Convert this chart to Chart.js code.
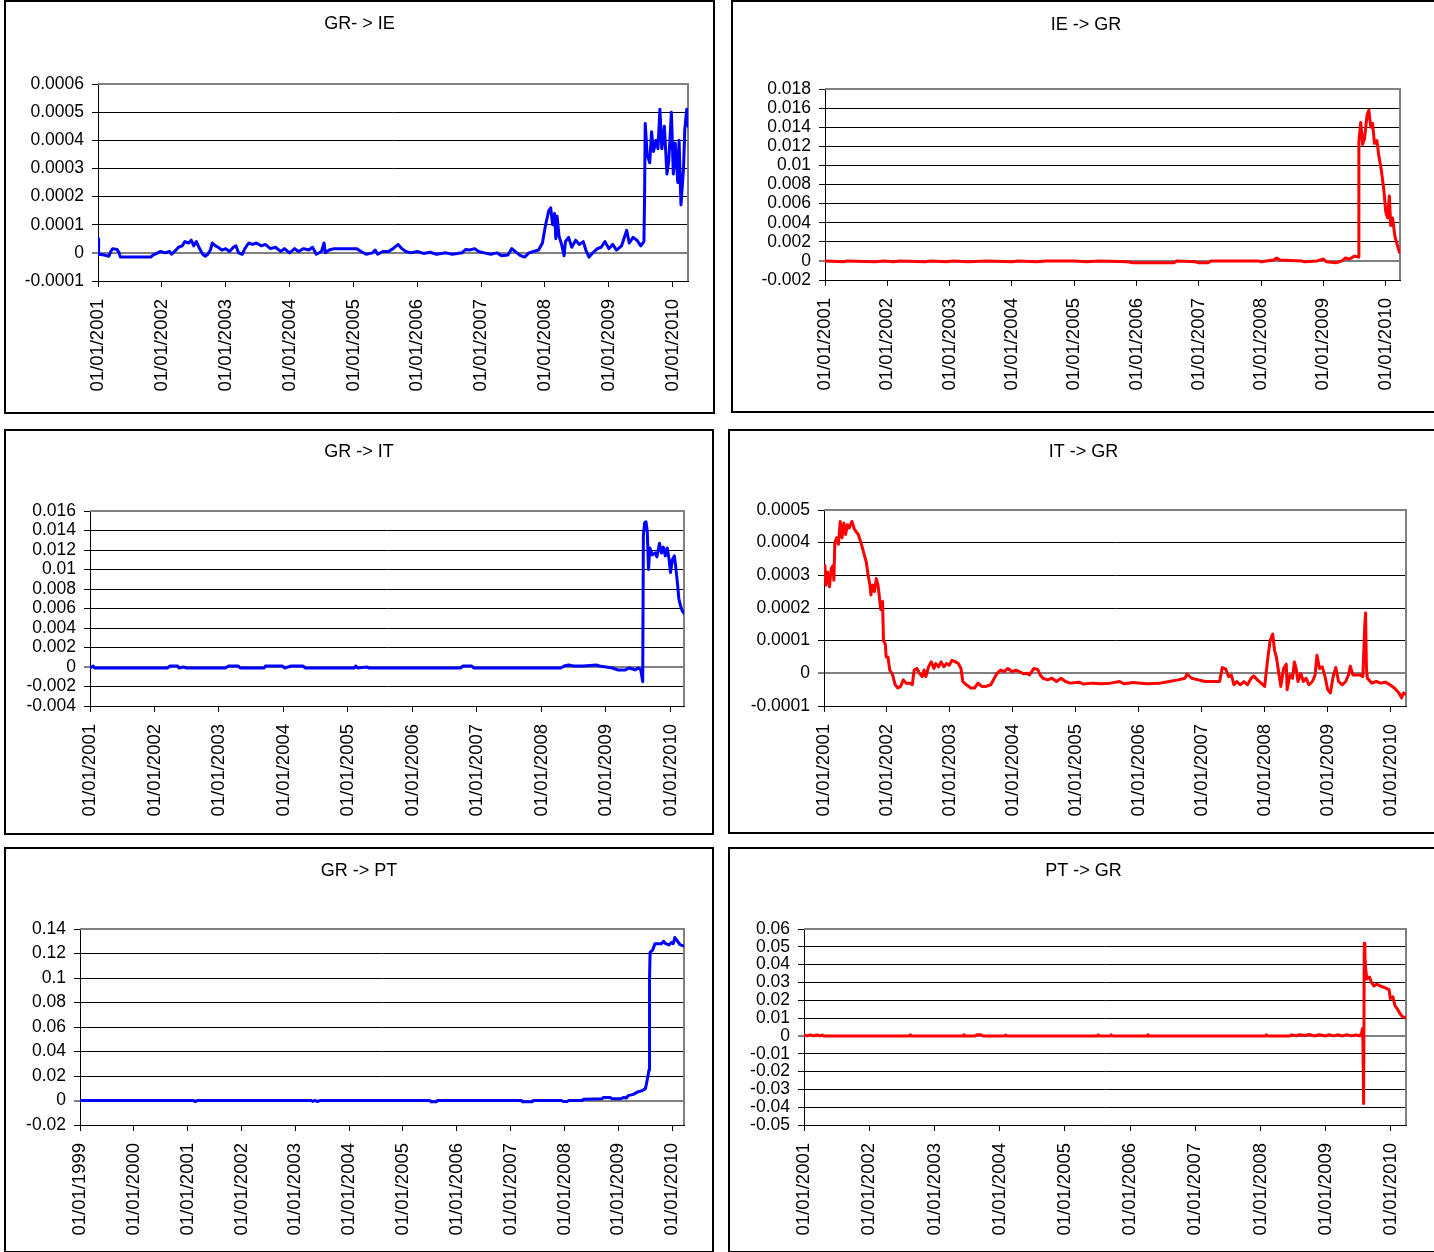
<!DOCTYPE html>
<html>
<head>
<meta charset="utf-8">
<title>Spillover panels</title>
<script src="https://cdn.jsdelivr.net/npm/chart.js@4.4.1/dist/chart.umd.min.js"></script>
<style>
  html, body { margin: 0; padding: 0; background: #fff; }
  body { width: 1434px; height: 1252px; position: relative; overflow: hidden; }
  .panel { position: absolute; border: 2px solid #000; box-sizing: border-box; background: #fff; }
  .panel canvas { position: absolute; left: 0; top: 0; }
</style>
</head>
<body>
<div class="panel" style="left:4px;top:0px;width:711px;height:414px"><canvas id="grIe"></canvas></div>
<div class="panel" style="left:731px;top:0px;width:710px;height:413px"><canvas id="ieGr"></canvas></div>
<div class="panel" style="left:4px;top:429px;width:710px;height:406px"><canvas id="grIt"></canvas></div>
<div class="panel" style="left:728px;top:429px;width:711px;height:405px"><canvas id="itGr"></canvas></div>
<div class="panel" style="left:4px;top:847px;width:710px;height:406px"><canvas id="grPt"></canvas></div>
<div class="panel" style="left:728px;top:847px;width:711px;height:406px"><canvas id="ptGr"></canvas></div>
<script>
// tick categories (01/01 of each year)
const years2001 = [2001, 2002, 2003, 2004, 2005, 2006, 2007, 2008, 2009, 2010];
const years1999 = [1999, 2000, 2001, 2002, 2003, 2004, 2005, 2006, 2007, 2008, 2009, 2010];

// y tick labels
const grIeYTicks = ['-0.0001', '0', '0.0001', '0.0002', '0.0003', '0.0004', '0.0005', '0.0006'];
const ieGrYTicks = ['-0.002', '0', '0.002', '0.004', '0.006', '0.008', '0.01', '0.012', '0.014', '0.016', '0.018'];
const grItYTicks = ['-0.004', '-0.002', '0', '0.002', '0.004', '0.006', '0.008', '0.01', '0.012', '0.014', '0.016'];
const itGrYTicks = ['-0.0001', '0', '0.0001', '0.0002', '0.0003', '0.0004', '0.0005'];
const grPtYTicks = ['-0.02', '0', '0.02', '0.04', '0.06', '0.08', '0.1', '0.12', '0.14'];
const ptGrYTicks = ['-0.05', '-0.04', '-0.03', '-0.02', '-0.01', '0', '0.01', '0.02', '0.03', '0.04', '0.05', '0.06'];

// GR- > IE (dates in decimal years)
const grIeDates = [
  2001.00, 2001.01, 2001.10, 2001.17, 2001.20, 2001.23, 2001.30, 2001.33, 2001.35, 2001.60,
  2001.83, 2001.86, 2001.92, 2001.98, 2002.05, 2002.12, 2002.15, 2002.20, 2002.26, 2002.32,
  2002.36, 2002.42, 2002.46, 2002.50, 2002.54, 2002.58, 2002.64, 2002.68, 2002.72, 2002.76,
  2002.79, 2002.84, 2002.88, 2002.94, 2003.00, 2003.06, 2003.12, 2003.16, 2003.20, 2003.26,
  2003.30, 2003.36, 2003.42, 2003.48, 2003.56, 2003.62, 2003.70, 2003.78, 2003.86, 2003.92,
  2004.00, 2004.08, 2004.14, 2004.22, 2004.30, 2004.36, 2004.42, 2004.50, 2004.54, 2004.56,
  2004.62, 2004.70, 2004.90, 2005.05, 2005.12, 2005.20, 2005.30, 2005.34, 2005.38, 2005.46,
  2005.55, 2005.62, 2005.70, 2005.76, 2005.82, 2005.90, 2006.00, 2006.10, 2006.20, 2006.30,
  2006.45, 2006.55, 2006.70, 2006.76, 2006.82, 2006.90, 2006.96, 2007.05, 2007.15, 2007.25,
  2007.32, 2007.42, 2007.48, 2007.56, 2007.62, 2007.68, 2007.75, 2007.82, 2007.90, 2007.96,
  2008.01, 2008.06, 2008.09, 2008.12, 2008.15, 2008.17, 2008.19, 2008.22, 2008.26, 2008.30,
  2008.32, 2008.37, 2008.42, 2008.48, 2008.54, 2008.60, 2008.64, 2008.69, 2008.75, 2008.82,
  2008.88, 2008.94, 2009.00, 2009.06, 2009.12, 2009.20, 2009.28, 2009.32, 2009.38, 2009.44,
  2009.50, 2009.55, 2009.56, 2009.57, 2009.60, 2009.64, 2009.67, 2009.70, 2009.74, 2009.77,
  2009.80, 2009.83, 2009.87, 2009.91, 2009.94, 2009.98, 2010.01, 2010.04, 2010.08, 2010.10,
  2010.13, 2010.17, 2010.19, 2010.22, 2010.24
];
const grIeValues = [
  0.00005, -0.000005, -0.000008, -0.000012, 0.000005, 0.000015, 0.000012, 0, -0.000015, -0.000015,
  -0.000015, -0.000008, -0.000002, 0.000005, 0, 0.000005, -0.000005, 0.000005, 0.00002, 0.000025,
  0.00004, 0.000035, 0.000045, 0.000025, 0.00004, 0.00002, -0.000005, -0.000012, -0.000005, 0.00001,
  0.000035, 0.000025, 0.00002, 0.00001, 0.000015, 0.000005, 0.00002, 0.000025, 0, -0.000005,
  0.000015, 0.000035, 0.00003, 0.000035, 0.000025, 0.00003, 0.000015, 0.00002, 0.000005, 0.000015,
  0, 0.000015, 0.000005, 0.000015, 0.00001, 0.00002, -0.000005, 0.000005, 0.000035, 0,
  0.00001, 0.000015, 0.000015, 0.000015, 0.000005, -0.000005, 0, 0.00001, -0.000005, 0.000005,
  0.000005, 0.000015, 0.00003, 0.000015, 0.000005, 0, 0.000005, -0.000002, 0.000002, -0.000005,
  0, -0.000005, 0, 0.000012, 0.00001, 0.000015, 0.000005, 0, -0.000005, 0,
  -0.00001, -0.000008, 0.000015, 0, -0.00001, -0.000015, 0, 0.000005, 0.00001, 0.000035,
  0.0001, 0.00015, 0.00016, 0.0001, 0.00014, 0.00005, 0.00013, 0.00006, 0.00003, -0.00001,
  0.00004, 0.000055, 0.00002, 0.000045, 0.00003, 0.00004, 0.00001, -0.000015, 0, 0.000015,
  0.00002, 0.00004, 0.000015, 0.00003, 0.00001, 0.000025, 0.00008, 0.000035, 0.000055, 0.000045,
  0.000025, 0.00004, 0.0002, 0.00046, 0.00035, 0.00032, 0.00043, 0.00036, 0.0004, 0.00037,
  0.00051, 0.00037, 0.00045, 0.00028, 0.00033, 0.0005, 0.00028, 0.00039, 0.00025, 0.0004,
  0.00017, 0.0003, 0.00044, 0.00051, 0.00045
];

// IE -> GR
const ieGrDates = [
  2001.00, 2001.30, 2001.35, 2001.80, 2001.95, 2002.10, 2002.20, 2002.60, 2002.70, 2002.95,
  2003.05, 2003.30, 2003.60, 2004.00, 2004.10, 2004.40, 2004.55, 2005.00, 2005.20, 2005.40,
  2005.85, 2005.95, 2006.60, 2006.65, 2006.95, 2007.00, 2007.15, 2007.20, 2007.95, 2008.00,
  2008.20, 2008.25, 2008.30, 2008.65, 2008.70, 2008.90, 2009.00, 2009.05, 2009.20, 2009.30,
  2009.35, 2009.42, 2009.50, 2009.56, 2009.57, 2009.60, 2009.63, 2009.66, 2009.70, 2009.73,
  2009.76, 2009.79, 2009.82, 2009.86, 2009.89, 2009.93, 2009.97, 2010.00, 2010.03, 2010.06,
  2010.08, 2010.11, 2010.15, 2010.19, 2010.22
];
const ieGrValues = [
  0, -0.0001, 0, -0.0001, 0, -0.0001, 0, -0.0001, 0, -0.0001,
  0, -0.0001, 0, -0.0001, 0, -0.0001, 0, 0, -0.0001, 0,
  -0.0001, -0.0002, -0.0002, 0, -0.0001, -0.0002, -0.0002, 0, 0, -0.0001,
  0.0001, 0.0003, 0.0001, 0, -0.0001, 0, 0.0002, -0.0001, -0.0002, 0,
  0.0003, 0.0002, 0.0005, 0.0004, 0.0125, 0.0145, 0.0122, 0.0128, 0.0152, 0.0158,
  0.014, 0.0144, 0.0123, 0.0126, 0.011, 0.0095, 0.0075, 0.0052, 0.0045, 0.0068,
  0.0037, 0.0045, 0.0025, 0.0016, 0.0009
];

// GR -> IT
const grItDates = [
  2001.00, 2001.05, 2001.07, 2002.20, 2002.24, 2002.36, 2002.38, 2002.45, 2002.50, 2003.10,
  2003.15, 2003.30, 2003.33, 2003.70, 2003.72, 2003.98, 2004.02, 2004.12, 2004.30, 2004.34,
  2005.10, 2005.12, 2005.15, 2005.30, 2005.32, 2006.75, 2006.78, 2006.92, 2006.95, 2008.30,
  2008.35, 2008.42, 2008.50, 2008.65, 2008.85, 2008.90, 2009.00, 2009.10, 2009.18, 2009.30,
  2009.36, 2009.45, 2009.50, 2009.54, 2009.57, 2009.58, 2009.60, 2009.62, 2009.64, 2009.66,
  2009.68, 2009.72, 2009.76, 2009.79, 2009.83, 2009.86, 2009.89, 2009.92, 2009.95, 2009.98,
  2010.00, 2010.03, 2010.06, 2010.08, 2010.11, 2010.13, 2010.16, 2010.18, 2010.21
];
const grItValues = [
  -0.0001, 0.0001, -0.0001, -0.0001, 0.0001, 0.0001, -0.0001, 0, -0.0001, -0.0001,
  0.0001, 0.0001, -0.0001, -0.0001, 0.0001, 0.0001, -0.0001, 0.0001, 0.0001, -0.0001,
  -0.0001, 0.0001, -0.0001, 0, -0.0001, -0.0001, 0.0001, 0.0001, -0.0001, -0.0001,
  0.0001, 0.0002, 0.0001, 0.0001, 0.0002, 0.0001, 0, -0.0001, -0.0003, -0.0003,
  -0.0001, -0.0003, -0.0001, -0.0003, -0.0015, 0.0135, 0.0148, 0.0149, 0.014, 0.01,
  0.0122, 0.0115, 0.0117, 0.0113, 0.0127, 0.0117, 0.0123, 0.0114, 0.0122, 0.011,
  0.0097, 0.011, 0.0114, 0.0104, 0.0085, 0.007, 0.0062, 0.0058, 0.0055
];

// IT -> GR
const itGrDates = [
  2001.000, 2001.014, 2001.029, 2001.057, 2001.086, 2001.114, 2001.143, 2001.157, 2001.172, 2001.200,
  2001.229, 2001.258, 2001.286, 2001.315, 2001.343, 2001.372, 2001.401, 2001.443, 2001.486, 2001.544,
  2001.587, 2001.629, 2001.672, 2001.701, 2001.730, 2001.744, 2001.773, 2001.801, 2001.830, 2001.858,
  2001.887, 2001.901, 2001.930, 2001.944, 2001.973, 2001.987, 2002.016, 2002.044, 2002.087, 2002.130,
  2002.173, 2002.216, 2002.259, 2002.302, 2002.359, 2002.402, 2002.431, 2002.474, 2002.516, 2002.559,
  2002.588, 2002.617, 2002.660, 2002.702, 2002.745, 2002.774, 2002.817, 2002.860, 2002.903, 2002.946,
  2002.989, 2003.032, 2003.089, 2003.132, 2003.175, 2003.203, 2003.260, 2003.332, 2003.389, 2003.446,
  2003.504, 2003.575, 2003.647, 2003.704, 2003.747, 2003.804, 2003.861, 2003.918, 2003.990, 2004.047,
  2004.104, 2004.162, 2004.219, 2004.262, 2004.333, 2004.391, 2004.433, 2004.476, 2004.548, 2004.620,
  2004.691, 2004.763, 2004.834, 2004.906, 2005.049, 2005.120, 2005.263, 2005.406, 2005.549, 2005.692,
  2005.764, 2005.907, 2006.122, 2006.336, 2006.479, 2006.622, 2006.730, 2006.765, 2006.837, 2006.944,
  2007.052, 2007.195, 2007.281, 2007.323, 2007.381, 2007.423, 2007.466, 2007.509, 2007.552, 2007.609,
  2007.667, 2007.724, 2007.781, 2007.824, 2007.881, 2007.939, 2007.996, 2008.039, 2008.082, 2008.124,
  2008.153, 2008.182, 2008.225, 2008.253, 2008.296, 2008.339, 2008.353, 2008.396, 2008.439, 2008.468,
  2008.496, 2008.525, 2008.568, 2008.611, 2008.654, 2008.697, 2008.754, 2008.797, 2008.826, 2008.868,
  2008.911, 2008.954, 2008.997, 2009.040, 2009.083, 2009.126, 2009.169, 2009.226, 2009.283, 2009.326,
  2009.355, 2009.398, 2009.455, 2009.512, 2009.555, 2009.584, 2009.598, 2009.612, 2009.627, 2009.698,
  2009.770, 2009.841, 2009.913, 2009.984, 2010.056, 2010.127, 2010.170, 2010.199, 2010.242
];
const itGrValues = [
  0.0003, 0.00033, 0.00027, 0.00031, 0.000265, 0.00032, 0.00033, 0.000285, 0.0004, 0.000415,
  0.000395, 0.000465, 0.000415, 0.00046, 0.000425, 0.000455, 0.000445, 0.000465, 0.00044, 0.000425,
  0.0004, 0.00037, 0.00034, 0.0003, 0.00027, 0.00024, 0.00027, 0.00025, 0.00029, 0.00027,
  0.00022, 0.000195, 0.00022, 0.0001, 0.00009, 0.00005, 0.00005, 0.00001, -0.000003, -0.000035,
  -0.000045, -0.00004, -0.00002, -0.00003, -0.00003, -0.000035, 0.00001, 0.000015, 0, -0.00001,
  0.00001, -0.00001, 0.00002, 0.000035, 0.000015, 0.00003, 0.00002, 0.000035, 0.00002, 0.00003,
  0.000025, 0.00004, 0.000035, 0.00003, 0.000015, -0.000025, -0.000035, -0.000045, -0.000045, -0.00003,
  -0.00004, -0.00004, -0.000035, -0.000015, 0, 0.00001, 0.000005, 0.000015, 0.000005, 0.00001,
  0.000005, -0.000001, 0, -0.000005, 0.000015, 0.000012, -0.000005, -0.000015, -0.00002, -0.000015,
  -0.000025, -0.000015, -0.000025, -0.00003, -0.000027, -0.000033, -0.00003, -0.000032, -0.00003, -0.000025,
  -0.000032, -0.000028, -0.000032, -0.00003, -0.000025, -0.00002, -0.000015, -0.000002, -0.000015, -0.00002,
  -0.000025, -0.000025, -0.000025, 0.000018, 0.000012, -0.00001, -0.000005, -0.000035, -0.000025, -0.000035,
  -0.000025, -0.000035, -0.000015, -0.000008, -0.00002, -0.00003, -0.00004, 0.000035, 0.0001, 0.00012,
  0.00007, 0.00005, -0.000005, -0.00004, 0.000015, 0.000028, -0.00005, -0.000005, -0.000015, 0.000035,
  0.000015, -0.000025, 0, -0.000025, -0.000015, -0.000035, -0.000025, -0.000005, 0.000055, 0.000015,
  0.00002, -0.00001, -0.00005, -0.00006, -0.00001, 0.000018, -0.000025, -0.000035, -0.000025, -0.000005,
  0.000022, -0.000005, -0.000005, -0.000005, -0.00001, 0.00014, 0.000185, 0.000015, -0.000015, -0.00003,
  -0.000025, -0.00003, -0.000027, -0.000035, -0.000045, -0.00006, -0.000075, -0.00006, -0.000065
];

// GR -> PT
const grPtDates = [
  1999.00, 2001.10, 2001.15, 2001.18, 2003.30, 2003.32, 2003.36, 2003.42, 2003.46, 2005.50,
  2005.52, 2005.62, 2005.64, 2007.20, 2007.22, 2007.40, 2007.42, 2007.95, 2007.97, 2008.05,
  2008.08, 2008.33, 2008.35, 2008.70, 2008.72, 2008.85, 2008.88, 2009.05, 2009.10, 2009.15,
  2009.18, 2009.28, 2009.36, 2009.44, 2009.50, 2009.52, 2009.55, 2009.57, 2009.58, 2009.59,
  2009.64, 2009.68, 2009.80, 2009.84, 2009.88, 2009.94, 2009.99, 2010.02, 2010.05, 2010.10,
  2010.15, 2010.22
];
const grPtValues = [
  0, 0, -0.0008, 0, 0, -0.0008, 0, -0.0008, 0, 0,
  -0.001, -0.001, 0, 0, -0.001, -0.001, 0, 0, -0.0008, -0.0008,
  0, 0, 0.001, 0.0015, 0.0025, 0.0025, 0.0015, 0.0015, 0.0025, 0.002,
  0.004, 0.005, 0.007, 0.008, 0.0095, 0.013, 0.02, 0.025, 0.1, 0.121,
  0.123, 0.128, 0.128, 0.13, 0.128, 0.127, 0.129, 0.128, 0.133, 0.13,
  0.127, 0.126
];

// PT -> GR
const ptGrDates = [
  2001.00, 2001.05, 2001.10, 2001.15, 2001.20, 2001.25, 2001.28, 2001.30, 2002.62, 2002.63,
  2002.65, 2003.44, 2003.45, 2003.47, 2003.63, 2003.65, 2003.72, 2003.74, 2004.08, 2004.09,
  2004.11, 2005.50, 2005.51, 2005.53, 2005.70, 2005.71, 2005.73, 2006.26, 2006.27, 2006.29,
  2008.08, 2008.09, 2008.11, 2008.45, 2008.48, 2008.55, 2008.60, 2008.68, 2008.75, 2008.82,
  2008.90, 2009.00, 2009.05, 2009.12, 2009.18, 2009.26, 2009.32, 2009.40, 2009.46, 2009.52,
  2009.55, 2009.56, 2009.57, 2009.58, 2009.59, 2009.60, 2009.61, 2009.63, 2009.67, 2009.70,
  2009.74, 2009.78, 2009.84, 2009.91, 2009.97, 2009.99, 2010.03, 2010.06, 2010.10, 2010.13,
  2010.17, 2010.23
];
const ptGrValues = [
  0.0006, 0, 0.0006, 0, 0.0006, 0, 0.0005, 0, 0, 0.0006,
  0, 0, 0.0007, 0, 0, 0.0007, 0.0006, 0, 0, 0.0005,
  0, 0, 0.0006, 0, 0, 0.0006, 0, 0, 0.0007, 0,
  0, 0.0006, 0, 0, 0.0006, 0, 0.0007, 0.0002, 0.0008, 0,
  0.0006, 0, 0.0007, 0, 0.0006, 0, 0.0007, 0, 0.0006, 0,
  0.0015, 0.004, -0.003, -0.038, 0.052, 0.045, 0.038, 0.032, 0.033, 0.03,
  0.028, 0.029, 0.028, 0.027, 0.026, 0.021, 0.022, 0.017, 0.015, 0.013,
  0.011, 0.01
];

Chart.defaults.font.family = '"Liberation Sans", Arial, sans-serif';
Chart.defaults.color = '#000';

// grey top/right edge of the plot area, like the spreadsheet frame
const plotFrame = {
  id: 'plotFrame',
  beforeDatasetsDraw(chart) {
    const { ctx, chartArea: a } = chart;
    ctx.save();
    ctx.strokeStyle = '#808080';
    ctx.lineWidth = 2;
    ctx.beginPath();
    ctx.moveTo(a.left, a.top);
    ctx.lineTo(a.right, a.top);
    ctx.lineTo(a.right, a.bottom);
    ctx.stroke();
    ctx.restore();
  }
};

function drawPanel(id, cfg) {
  const canvas = document.getElementById(id);
  const box = canvas.parentElement;
  const W = box.clientWidth, H = box.clientHeight;
  canvas.width = W;
  canvas.height = H;
  const left0 = box.offsetLeft + box.clientLeft;
  const top0 = box.offsetTop + box.clientTop;

  const p = cfg.plot;
  const yWidth = p.left - left0;
  const rightGap = left0 + W - p.right;
  const xHeight = top0 + H - p.bottom;
  const titleLine = 18 * 1.2;
  const titleTop = cfg.titleY - top0 - titleLine / 2;
  const titleBottom = p.top - top0 - titleLine - titleTop;

  const yVals = cfg.yTicks.map(Number);

  new Chart(canvas, {
    type: 'line',
    data: {
      datasets: [{
        data: cfg.dates.map((d, i) => ({ x: d, y: cfg.values[i] })),
        borderColor: cfg.color,
        borderWidth: 3,
        pointRadius: 0,
        tension: 0,
        borderJoinStyle: 'round',
        borderCapStyle: 'round',
        fill: false
      }]
    },
    options: {
      responsive: false,
      animation: false,
      devicePixelRatio: 1,
      layout: { autoPadding: false, padding: 0 },
      plugins: {
        legend: { display: false },
        tooltip: { enabled: false },
        title: {
          display: true,
          text: cfg.title,
          color: '#000',
          font: { size: 18, weight: 'normal', lineHeight: 1.2 },
          padding: { top: titleTop, bottom: titleBottom }
        }
      },
      scales: {
        x: {
          type: 'linear',
          min: cfg.xMin,
          max: cfg.xMax,
          afterBuildTicks: s => { s.ticks = cfg.years.map(v => ({ value: v })); },
          afterFit: s => { s.height = xHeight; s.paddingLeft = 0; s.paddingRight = 0; },
          grid: { drawOnChartArea: false, drawTicks: true, tickLength: 6, color: '#000' },
          border: { display: true, color: '#000', width: 1 },
          ticks: {
            autoSkip: false,
            minRotation: 90,
            maxRotation: 90,
            padding: 12,
            color: '#000',
            font: { size: 18.5 },
            callback: v => '01/01/' + v
          }
        },
        y: {
          min: yVals[0],
          max: yVals[yVals.length - 1],
          afterBuildTicks: s => { s.ticks = yVals.map(v => ({ value: v })); },
          afterFit: s => { s.width = yWidth; s.paddingTop = 0; s.paddingBottom = 0; },
          grid: {
            tickLength: 6,
            color: c => (c.tick && c.tick.value === 0 ? '#808080' : '#000'),
            lineWidth: c => (c.tick && c.tick.value === 0 ? 2 : 1)
          },
          border: { display: true, color: '#000', width: 1 },
          ticks: {
            autoSkip: false,
            padding: 8,
            color: '#000',
            font: { size: 17.5 },
            callback: (v, i) => cfg.yTicks[i]
          }
        },
        // empty right-hand axis: reserves the gap to the panel edge
        yGap: {
          position: 'right',
          min: yVals[0],
          max: yVals[yVals.length - 1],
          grid: { display: false },
          border: { display: false },
          ticks: { display: false },
          afterFit: s => { s.width = rightGap; s.paddingTop = 0; s.paddingBottom = 0; }
        }
      }
    },
    plugins: [plotFrame]
  });
}

drawPanel('grIe', {
  title: 'GR- > IE', color: '#0000FF', dates: grIeDates, values: grIeValues,
  yTicks: grIeYTicks, years: years2001, xMin: 2001, xMax: 2010.24,
  plot: { left: 98, top: 84, right: 688, bottom: 281 }, titleY: 24
});
drawPanel('ieGr', {
  title: 'IE -> GR', color: '#FF0000', dates: ieGrDates, values: ieGrValues,
  yTicks: ieGrYTicks, years: years2001, xMin: 2001, xMax: 2010.23,
  plot: { left: 825, top: 89, right: 1400, bottom: 280 }, titleY: 25
});
drawPanel('grIt', {
  title: 'GR -> IT', color: '#0000FF', dates: grItDates, values: grItValues,
  yTicks: grItYTicks, years: years2001, xMin: 2001, xMax: 2010.21,
  plot: { left: 90, top: 511, right: 684, bottom: 706 }, titleY: 452
});
drawPanel('itGr', {
  title: 'IT -> GR', color: '#FF0000', dates: itGrDates, values: itGrValues,
  yTicks: itGrYTicks, years: years2001, xMin: 2001, xMax: 2010.24,
  plot: { left: 824, top: 510, right: 1406, bottom: 706 }, titleY: 452
});
drawPanel('grPt', {
  title: 'GR -> PT', color: '#0000FF', dates: grPtDates, values: grPtValues,
  yTicks: grPtYTicks, years: years1999, xMin: 1999, xMax: 2010.22,
  plot: { left: 80, top: 929, right: 684, bottom: 1125 }, titleY: 871
});
drawPanel('ptGr', {
  title: 'PT -> GR', color: '#FF0000', dates: ptGrDates, values: ptGrValues,
  yTicks: ptGrYTicks, years: years2001, xMin: 2001, xMax: 2010.23,
  plot: { left: 804, top: 929, right: 1406, bottom: 1125 }, titleY: 871
});
</script>
</body>
</html>
